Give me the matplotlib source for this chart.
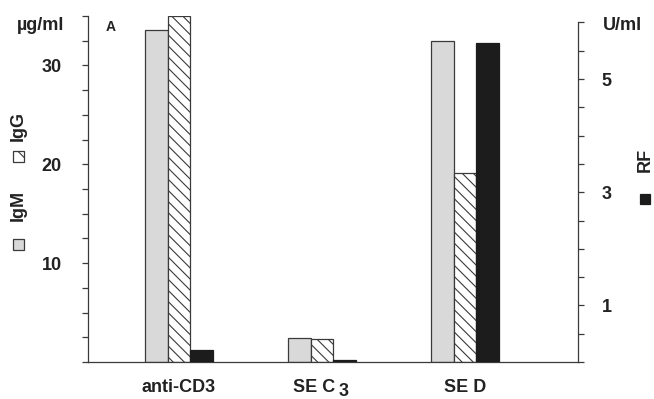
import numpy as np
import matplotlib
matplotlib.use("Agg")
import matplotlib.pyplot as plt

plt.rcParams["font.family"] = ["Liberation Sans", "DejaVu Sans"]
plt.rcParams["hatch.linewidth"] = 0.8

# ---- data ----
groups = ["anti-CD3", "SE C", "SE D"]
igm = [33.6, 2.45, 32.5]      # µg/ml
igg = [35.0, 2.35, 19.1]      # µg/ml
rf = [0.21, 0.04, 5.64]       # U/ml
left_ticks = [10, 20, 30]
right_ticks = [1, 3, 5]

DPI = 100
fig = plt.figure(figsize=(654 / DPI, 399 / DPI), dpi=DPI, facecolor="white")
ax = fig.add_axes([88 / 654, 37 / 399, 490 / 654, 346 / 399])
ax2 = ax.twinx()

x = np.arange(len(groups))
w = 0.158
edge = "#3a3a3a"
txt = "#222222"

ax.bar(x - w, igm, w, color="#d9d9d9", edgecolor=edge, linewidth=0.9)
ax.bar(x, igg, w, color="white", edgecolor=edge, linewidth=0.9, hatch="\\\\\\")
ax2.bar(x + w, rf, w, color="#1c1c1c", edgecolor="#1c1c1c", linewidth=0.9)

ax.set_xlim(-0.636, 2.79)
ax.set_ylim(0, 35)
ax2.set_ylim(0, 346 / 56.6)

# spines
for a in (ax, ax2):
    a.spines["top"].set_visible(False)
    for s in a.spines.values():
        s.set_color(edge)
        s.set_linewidth(0.9)
ax.spines["right"].set_visible(False)
ax2.spines["left"].set_visible(False)
ax2.spines["bottom"].set_visible(False)
ax.spines["left"].set_bounds(0, 35)
ax2.spines["right"].set_bounds(0, 6)

# ticks
ax.set_yticks(np.arange(0, 35.1, 2.5), minor=True)
ax.set_yticks(left_ticks)
ax.set_yticklabels([str(t) for t in left_ticks], fontsize=13, fontweight="bold", color=txt)
ax.tick_params(axis="y", which="both", length=4, width=0.9, color=edge, pad=15)

ax2.set_yticks(np.arange(0, 6.01, 0.5), minor=True)
ax2.set_yticks(right_ticks)
ax2.set_yticklabels([str(t) for t in right_ticks], fontsize=13, fontweight="bold", color=txt)
ax2.tick_params(axis="y", which="both", length=4, width=0.9, color=edge, pad=13)

ax.set_xticks(x)
ax.set_xticklabels([groups[0], "", groups[2]], fontsize=13, fontweight="bold", color=txt)
ax.tick_params(axis="x", length=0, pad=12)

# "SE C" label with its lowered 3
ax.annotate(groups[1], xy=(1, 0), xycoords=("data", "axes fraction"),
            xytext=(-8, -30), textcoords="offset pixels",
            fontsize=13, fontweight="bold", color=txt, ha="center", va="baseline")
ax.annotate("3", xy=(1, 0), xycoords=("data", "axes fraction"),
            xytext=(22, -34), textcoords="offset pixels",
            fontsize=13, fontweight="bold", color=txt, ha="center", va="baseline")

# unit labels
fig.text(17 / 654, 1 - 26 / 399, "µg/ml", fontsize=13, fontweight="bold", color=txt, va="center")
fig.text(603 / 654, 1 - 26 / 399, "U/ml", fontsize=13, fontweight="bold", color=txt, va="center")
fig.text(106 / 654, 1 - 27 / 399, "A", fontsize=10, fontweight="bold", color=txt, va="center")

# left legend (rotated)
fig.text(18 / 654, 1 - 126 / 399, "IgG", rotation=90, fontsize=13, fontweight="bold",
         color=txt, ha="center", va="center")
fig.text(18 / 654, 1 - 205 / 399, "IgM", rotation=90, fontsize=13, fontweight="bold",
         color=txt, ha="center", va="center")
fig.patches.append(plt.Rectangle((13 / 654, 1 - 162 / 399), 11 / 654, 11 / 399,
                                 transform=fig.transFigure, facecolor="white",
                                 edgecolor=edge, linewidth=0.9, hatch="\\\\"))
fig.patches.append(plt.Rectangle((13 / 654, 1 - 250 / 399), 11 / 654, 11 / 399,
                                 transform=fig.transFigure, facecolor="#d9d9d9",
                                 edgecolor=edge, linewidth=0.9))

# right legend
fig.text(645 / 654, 1 - 160 / 399, "RF", rotation=90, fontsize=13, fontweight="bold",
         color=txt, ha="center", va="center")
fig.patches.append(plt.Rectangle((640 / 654, 1 - 204 / 399), 10 / 654, 10 / 399,
                                 transform=fig.transFigure, facecolor="#1c1c1c",
                                 edgecolor="#1c1c1c", linewidth=0.9))

fig.savefig("out.png", dpi=DPI, facecolor="white")
